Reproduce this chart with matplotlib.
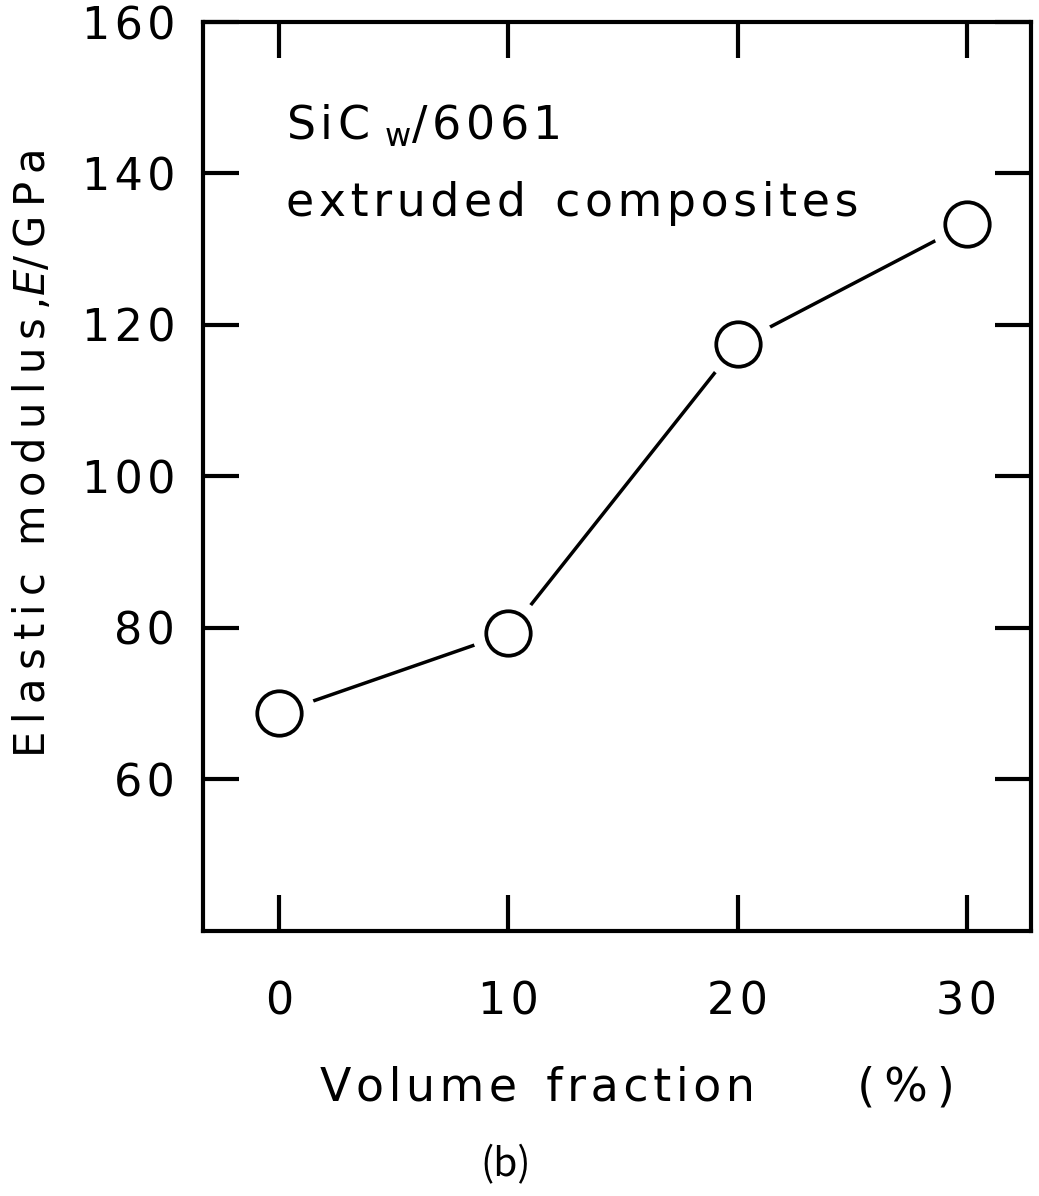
import matplotlib
matplotlib.use("Agg")
import matplotlib.pyplot as plt
from matplotlib.ticker import FixedLocator, FixedFormatter

# values
volume_fraction = [0, 10, 20, 30]
elastic_modulus = [68.8, 79.3, 117.5, 133.3]

x_ticks = [0, 10, 20, 30]
y_ticks = [60, 80, 100, 120, 140, 160]

THIN = "\u2009"
HAIR = "\u200a"


def spaced(s, sp=HAIR):
    return sp.join(s)


plt.rcParams["font.family"] = ["DejaVu Sans"]

fig = plt.figure(figsize=(10.39, 11.96), dpi=100)
ax = fig.add_axes([0.1954, 0.2216, 0.797, 0.760])

# line, then a white halo so the line stops short of each circle
ax.plot(volume_fraction, elastic_modulus, "-", color="black", linewidth=2.5, zorder=2)
ax.plot(volume_fraction, elastic_modulus, "o", color="white", markersize=52,
        markeredgewidth=0, zorder=3)
ax.plot(volume_fraction, elastic_modulus, "o", markerfacecolor="white",
        markeredgecolor="black", markersize=32, markeredgewidth=2.7, zorder=4)

ax.set_xlim(-3.32, 32.8)
ax.set_ylim(40, 160)

for side in ["left", "right", "top", "bottom"]:
    ax.spines[side].set_linewidth(3)

ax.xaxis.set_major_locator(FixedLocator(x_ticks))
ax.xaxis.set_major_formatter(FixedFormatter([spaced(str(v)) for v in x_ticks]))
ax.yaxis.set_major_locator(FixedLocator(y_ticks))
ax.yaxis.set_major_formatter(FixedFormatter([spaced(str(v)) for v in y_ticks]))

ax.tick_params(axis="both", which="major", direction="in", length=26, width=3,
               top=True, right=True, labelsize=32)
ax.tick_params(axis="x", pad=36)
ax.tick_params(axis="y", pad=20)

ax.set_xlabel(spaced("Volume") + "  " + spaced("fraction") + "       " + spaced("(%)", THIN),
              fontsize=33)
ax.xaxis.set_label_coords(0.525, -0.148)
ax.set_ylabel(spaced("Elastic", THIN) + "  " + spaced("modulus,", THIN) + r"$\it{E}$"
              + spaced("/GPa", THIN), fontsize=30)
ax.yaxis.set_label_coords(-0.18, 0.525)

ax.text(0.1, 0.885, spaced("SiC") + r" $_{\rm w}$" + spaced("/6061"),
        transform=ax.transAxes, fontsize=33, ha="left", va="center")
ax.text(0.1, 0.8, spaced("extruded") + "  " + spaced("composites"),
        transform=ax.transAxes, fontsize=33, ha="left", va="center")

fig.text(0.487, 0.026, "(b)", fontsize=28, family=["Noto Sans CJK JP", "DejaVu Sans"],
         ha="center", va="center")

fig.savefig("out.png", dpi=100)
